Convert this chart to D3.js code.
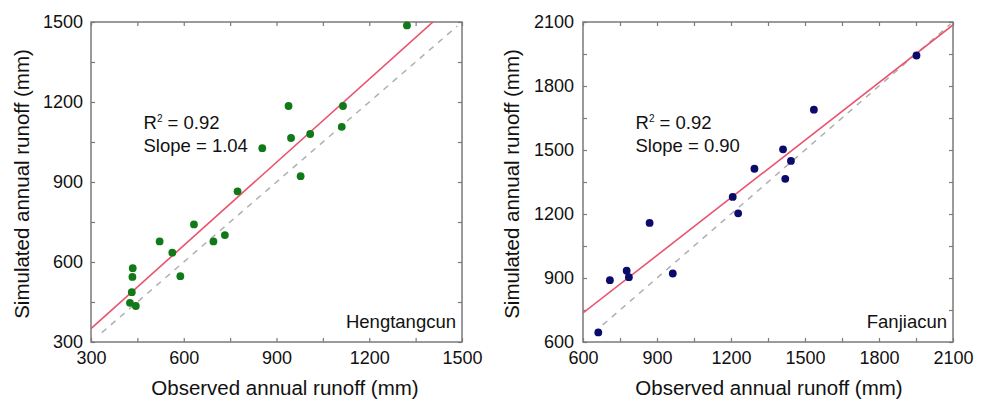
<!DOCTYPE html>
<html>
<head>
<meta charset="utf-8">
<script src="https://cdn.jsdelivr.net/npm/d3@7"></script>
<style>
  body { margin: 0; background: #fff; }
  svg { display: block; }
</style>
</head>
<body>
<div id="chart"></div>
<script>
// ---- data ----
var panelNames = ["Hengtangcun", "Fanjiacun"];

var hengObserved = [1322, 939, 1115, 1111, 947, 1009, 854, 978, 774, 633, 522, 733, 696, 563, 589, 435, 434, 432, 426, 445];
var hengSimulated = [1487, 1185, 1185, 1107, 1065, 1080, 1027, 922, 865, 741, 677, 701, 677, 635, 547, 577, 544, 487, 447, 435];

var fanObserved = [1952, 1536, 1411, 1443, 1295, 1420, 1207, 1229, 870, 777, 786, 709, 964, 662];
var fanSimulated = [1943, 1689, 1503, 1449, 1412, 1365, 1280, 1203, 1158, 934, 904, 890, 921, 645];

var hengTicks = [300, 600, 900, 1200, 1500];
var fanTicks = [600, 900, 1200, 1500, 1800, 2100];

var r2Labels = ["0.92", "0.92"];
var slopeLabels = ["1.04", "0.90"];
var fitSlope = [1.04, 0.90];
var fitIntercept = [38, 196];
var oneToOneRange = [[335, 1485], [680, 2090]];

var xTitle = "Observed annual runoff (mm)";
var yTitle = "Simulated annual runoff (mm)";

var fontFamily = "'Liberation Sans', Arial, sans-serif";
var frameColor = "#7a7a7a";

var svg = d3.select("#chart").append("svg")
  .attr("width", 992)
  .attr("height", 402);

var panels = [
  { name: panelNames[0], obs: hengObserved, sim: hengSimulated, ticks: hengTicks,
    left: 91, right: 462, top: 22, bottom: 342, color: "#117a18", yTitleX: 28.5, xTitleX: 285, labelPad: 8 },
  { name: panelNames[1], obs: fanObserved, sim: fanSimulated, ticks: fanTicks,
    left: 583, right: 953, top: 22, bottom: 342, color: "#0b0b6b", yTitleX: 518.5, xTitleX: 769, labelPad: 9 }
];

panels.forEach(function(p, i) {
  var lo = p.ticks[0], hi = p.ticks[p.ticks.length - 1];
  var step = (p.ticks[1] - p.ticks[0]) / 2;
  var allTicks = d3.range(lo, hi + 1, step);

  var x = d3.scaleLinear().domain([lo, hi]).range([p.left, p.right]);
  var y = d3.scaleLinear().domain([lo, hi]).range([p.bottom, p.top]);

  var fmt = function(d) { return p.ticks.indexOf(d) >= 0 ? d : ""; };

  var g = svg.append("g");

  // clip to plot box
  g.append("clipPath").attr("id", "clip" + i)
    .append("rect")
      .attr("x", p.left).attr("y", p.top)
      .attr("width", p.right - p.left).attr("height", p.bottom - p.top);

  // axes (ticks point inward on all four sides)
  var axes = [
    { ax: d3.axisBottom(x).tickFormat(fmt), t: "translate(0," + p.bottom + ")", pad: 9 },
    { ax: d3.axisLeft(y).tickFormat(fmt), t: "translate(" + p.left + ",0)", pad: p.labelPad },
    { ax: d3.axisTop(x).tickFormat(""), t: "translate(0," + p.top + ")", pad: 0 },
    { ax: d3.axisRight(y).tickFormat(""), t: "translate(" + p.right + ",0)", pad: 0 }
  ];
  axes.forEach(function(a) {
    var ag = g.append("g")
      .attr("transform", a.t)
      .call(a.ax.tickValues(allTicks).tickSizeInner(-4).tickSizeOuter(0).tickPadding(a.pad));
    ag.select(".domain").remove();
    ag.selectAll(".tick line").attr("stroke", frameColor).attr("stroke-width", 1.2);
    ag.selectAll(".tick text")
      .attr("fill", "#111")
      .attr("font-family", fontFamily)
      .attr("font-size", 18);
  });

  // frame
  g.append("rect")
    .attr("x", p.left).attr("y", p.top)
    .attr("width", p.right - p.left).attr("height", p.bottom - p.top)
    .attr("fill", "none")
    .attr("stroke", frameColor)
    .attr("stroke-width", 1.5);

  var plot = g.append("g").attr("clip-path", "url(#clip" + i + ")");

  // 1:1 line
  plot.append("line")
    .attr("x1", x(oneToOneRange[i][0])).attr("y1", y(oneToOneRange[i][0]))
    .attr("x2", x(oneToOneRange[i][1])).attr("y2", y(oneToOneRange[i][1]))
    .attr("stroke", "#b0b0b0")
    .attr("stroke-width", 1.5)
    .attr("stroke-dasharray", "6,6");

  // fitted line
  plot.append("line")
    .attr("x1", x(lo)).attr("y1", y(fitSlope[i] * lo + fitIntercept[i]))
    .attr("x2", x(hi)).attr("y2", y(fitSlope[i] * hi + fitIntercept[i]))
    .attr("stroke", "#ea5370")
    .attr("stroke-width", 1.6);

  // points
  g.selectAll("circle.pt")
    .data(p.obs.map(function(d, k) { return [d, p.sim[k]]; }))
    .enter()
    .append("circle")
      .attr("class", "pt")
      .attr("cx", function(d) { return x(d[0]); })
      .attr("cy", function(d) { return y(d[1]); })
      .attr("r", 3.9)
      .attr("fill", p.color);

  // annotation
  var ann = g.append("text")
    .attr("x", p.left + 52.5)
    .attr("y", 129)
    .attr("font-family", fontFamily)
    .attr("font-size", 18.5)
    .attr("fill", "#111");
  ann.append("tspan").text("R");
  ann.append("tspan").attr("dy", -7).attr("font-size", 10).text("2");
  ann.append("tspan").attr("dy", 7).text(" = " + r2Labels[i]);

  g.append("text")
    .attr("x", p.left + 52.5)
    .attr("y", 152)
    .attr("font-family", fontFamily)
    .attr("font-size", 18.5)
    .attr("fill", "#111")
    .text("Slope = " + slopeLabels[i]);

  // station name
  g.append("text")
    .attr("x", p.right - 6)
    .attr("y", 328)
    .attr("text-anchor", "end")
    .attr("font-family", fontFamily)
    .attr("font-size", 18.5)
    .attr("fill", "#111")
    .text(p.name);

  // axis titles
  g.append("text")
    .attr("x", p.xTitleX)
    .attr("y", 395)
    .attr("text-anchor", "middle")
    .attr("font-family", fontFamily)
    .attr("font-size", 20.5)
    .attr("fill", "#111")
    .text(xTitle);

  g.append("text")
    .attr("transform", "translate(" + p.yTitleX + "," + ((p.top + p.bottom) / 2 + 2) + ") rotate(-90)")
    .attr("text-anchor", "middle")
    .attr("font-family", fontFamily)
    .attr("font-size", 20.5)
    .attr("fill", "#111")
    .text(yTitle);
});
</script>
</body>
</html>
